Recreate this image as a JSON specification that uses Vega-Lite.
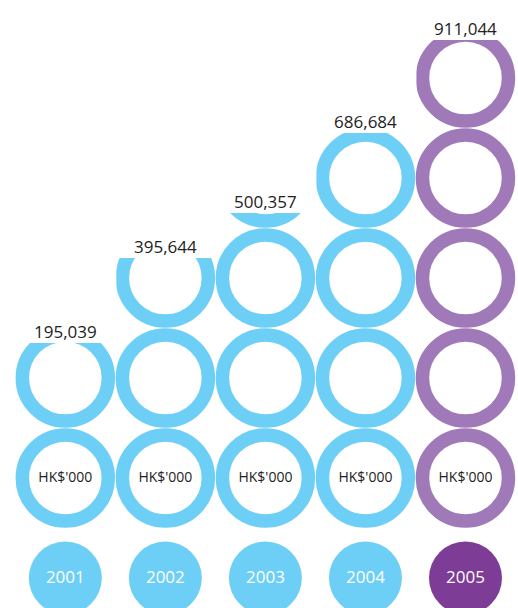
{
  "$schema": "https://vega.github.io/schema/vega-lite/v6.json",
  "width": 518,
  "height": 608,
  "padding": 0,
  "autosize": {"type": "none"},
  "background": "white",
  "config": {"view": {"stroke": null}, "font": "Open Sans"},
  "datasets": {
    "years": [
      {"year": 2001, "value": 195039, "label": "195,039", "rings": 2.35},
      {"year": 2002, "value": 395644, "label": "395,644", "rings": 3.2},
      {"year": 2003, "value": 500357, "label": "500,357", "rings": 3.65},
      {"year": 2004, "value": 686684, "label": "686,684", "rings": 4.45},
      {"year": 2005, "value": 911044, "label": "911,044", "rings": 5.38}
    ],
    "rings": [
      {"year": 2001, "level": 1}, {"year": 2001, "level": 2},
      {"year": 2002, "level": 1}, {"year": 2002, "level": 2}, {"year": 2002, "level": 3},
      {"year": 2003, "level": 1}, {"year": 2003, "level": 2}, {"year": 2003, "level": 3}, {"year": 2003, "level": 4},
      {"year": 2004, "level": 1}, {"year": 2004, "level": 2}, {"year": 2004, "level": 3}, {"year": 2004, "level": 4},
      {"year": 2005, "level": 1}, {"year": 2005, "level": 2}, {"year": 2005, "level": 3}, {"year": 2005, "level": 4}, {"year": 2005, "level": 5}
    ]
  },
  "encoding": {
    "x": {"field": "year", "type": "quantitative", "scale": {"domain": [2000.397, 2005.475], "nice": false, "zero": false}, "axis": null}
  },
  "layer": [
    {
      "data": {"name": "rings"},
      "mark": {"type": "point", "shape": "circle", "filled": false, "strokeWidth": 13.5, "size": 7396, "opacity": 1},
      "encoding": {
        "y": {"field": "level", "type": "quantitative", "scale": {"domain": [-0.3, 5.78], "nice": false, "zero": false}, "axis": null},
        "color": {"condition": {"test": "datum.year == 2005", "value": "#a07ab8"}, "value": "#6dcff6"}
      }
    },
    {
      "data": {"name": "years"},
      "mark": {"type": "bar", "size": 102, "color": "white"},
      "encoding": {
        "y": {"field": "rings", "type": "quantitative"},
        "y2": {"datum": 6}
      }
    },
    {
      "data": {"name": "years"},
      "mark": {"type": "text", "baseline": "alphabetic", "dy": -5, "fontSize": 17, "color": "#222222"},
      "encoding": {
        "y": {"field": "rings", "type": "quantitative"},
        "text": {"field": "label"}
      }
    },
    {
      "data": {"name": "years"},
      "mark": {"type": "text", "baseline": "middle", "fontSize": 14, "color": "#222222", "text": "HK$'000"},
      "encoding": {
        "y": {"datum": 1, "type": "quantitative"}
      }
    },
    {
      "data": {"name": "years"},
      "mark": {"type": "point", "shape": "circle", "filled": true, "size": 5329, "opacity": 1},
      "encoding": {
        "y": {"datum": 0, "type": "quantitative"},
        "color": {"condition": {"test": "datum.year == 2005", "value": "#7d3c96"}, "value": "#6dcff6"}
      }
    },
    {
      "data": {"name": "years"},
      "mark": {"type": "text", "baseline": "middle", "fontSize": 17, "color": "white"},
      "encoding": {
        "y": {"datum": 0, "type": "quantitative"},
        "text": {"field": "year", "type": "nominal"}
      }
    }
  ]
}
